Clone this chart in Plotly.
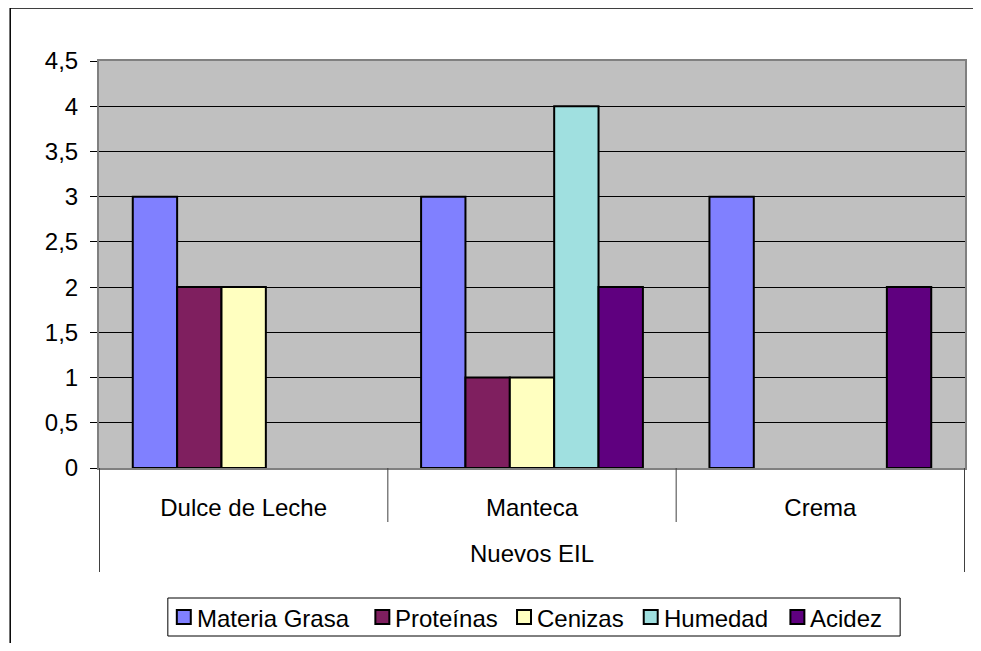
import plotly.graph_objects as go

# ---- data ----
categories = ["Dulce de Leche", "Manteca", "Crema"]
group_label = "Nuevos EIL"
series_names = ["Materia Grasa", "Proteínas", "Cenizas", "Humedad", "Acidez"]
materia_grasa = [3, 3, 3]
proteinas = [2, 1, None]
cenizas = [2, 1, None]
humedad = [None, 4, None]
acidez = [None, 2, 2]
y_ticks = [0, 0.5, 1, 1.5, 2, 2.5, 3, 3.5, 4, 4.5]

series_values = [materia_grasa, proteinas, cenizas, humedad, acidez]
colors = ["#8080FF", "#7F1F5F", "#FFFFC0", "#A0E0E0", "#5F007F"]

# page is rendered with an 8px body margin; work in page pixels and keep
# the figure small enough that the page never scrolls
OFF = 8
PAGE_W, PAGE_H = 981, 651
W, H = PAGE_W - 2 * OFF, PAGE_H - 2 * OFF
PLOT_LEFT, PLOT_RIGHT, PLOT_TOP, PLOT_BOTTOM = 99, 967, 61, 468
L, R = PLOT_LEFT - OFF, W - (PLOT_RIGHT - OFF)
T, B = PLOT_TOP - OFF, H - (PLOT_BOTTOM - OFF)
PW, PH = PLOT_RIGHT - PLOT_LEFT, PLOT_BOTTOM - PLOT_TOP


def px2x(px):
    return (px - PLOT_LEFT) / PW


def px2y(py):
    return (PLOT_BOTTOM - py) / PH


FONT = "Liberation Sans, Arial, sans-serif"
FS = 24

fig = go.Figure()
for name, vals, col in zip(series_names, series_values, colors):
    fig.add_trace(go.Bar(
        name=name, x=categories, y=vals,
        marker=dict(color=col, line=dict(color="#000000", width=2)),
        showlegend=False,
    ))

shapes = []
# outer chart frame
shapes.append(dict(type="rect", xref="paper", yref="paper",
                   x0=px2x(10), x1=px2x(1000), y0=px2y(670), y1=px2y(8),
                   line=dict(color="#000000", width=1.5), fillcolor="rgba(0,0,0,0)",
                   layer="below"))
# category dividers (inner, short) and group edges (long)
n = len(categories)
for i in range(n + 1):
    xb = i - 0.5
    outer = (i == 0 or i == n)
    shapes.append(dict(type="line", xref="x", yref="paper",
                       x0=xb, x1=xb, y0=0, y1=px2y(572 if outer else 522),
                       line=dict(color="#404040", width=1)))

annotations = [dict(text=group_label, xref="x", yref="paper",
                    x=(n - 1) / 2, y=px2y(553), showarrow=False,
                    xanchor="center", yanchor="middle",
                    font=dict(family=FONT, size=FS, color="#000000"))]

# legend (manual, Excel-like)
shapes.append(dict(type="rect", xref="paper", yref="paper",
                   x0=px2x(168), x1=px2x(902), y0=px2y(636), y1=px2y(598),
                   line=dict(color="#000000", width=1), fillcolor="#FFFFFF"))
legend_x = [176, 375, 517, 644, 791]
for name, col, lx in zip(series_names, colors, legend_x):
    shapes.append(dict(type="rect", xref="paper", yref="paper",
                       x0=px2x(lx + 1), x1=px2x(lx + 15), y0=px2y(624), y1=px2y(610),
                       line=dict(color="#000000", width=2), fillcolor=col))
    annotations.append(dict(text=name, xref="paper", yref="paper",
                            x=px2x(lx + 19), y=px2y(618), showarrow=False,
                            xanchor="left", yanchor="middle",
                            font=dict(family=FONT, size=FS, color="#000000")))

fig.update_layout(
    width=W, height=H,
    margin=dict(l=L, r=R, t=T, b=B, pad=0),
    paper_bgcolor="#FFFFFF",
    plot_bgcolor="#C0C0C0",
    barmode="group",
    bargap=1.5 / 6.5,
    bargroupgap=0,
    separators=", ",
    font=dict(family=FONT, size=FS, color="#000000"),
    showlegend=False,
    shapes=shapes,
    annotations=annotations,
)
fig.update_xaxes(
    type="category",
    showgrid=False, ticks="", showline=True, linecolor="#808080", linewidth=2,
    mirror=True, tickfont=dict(family=FONT, size=FS, color="#000000"),
    ticklabelstandoff=17, fixedrange=True,
)
fig.update_yaxes(
    range=[0, 4.5], tickvals=y_ticks, showgrid=True, gridcolor="#000000", gridwidth=1,
    zeroline=False, showline=True, linecolor="#808080", linewidth=2, mirror=True,
    ticks="outside", ticklen=7, tickcolor="#000000", tickwidth=1,
    tickfont=dict(family=FONT, size=FS, color="#000000"),
    ticklabelstandoff=7, fixedrange=True,
)

fig.write_html("out.html")
